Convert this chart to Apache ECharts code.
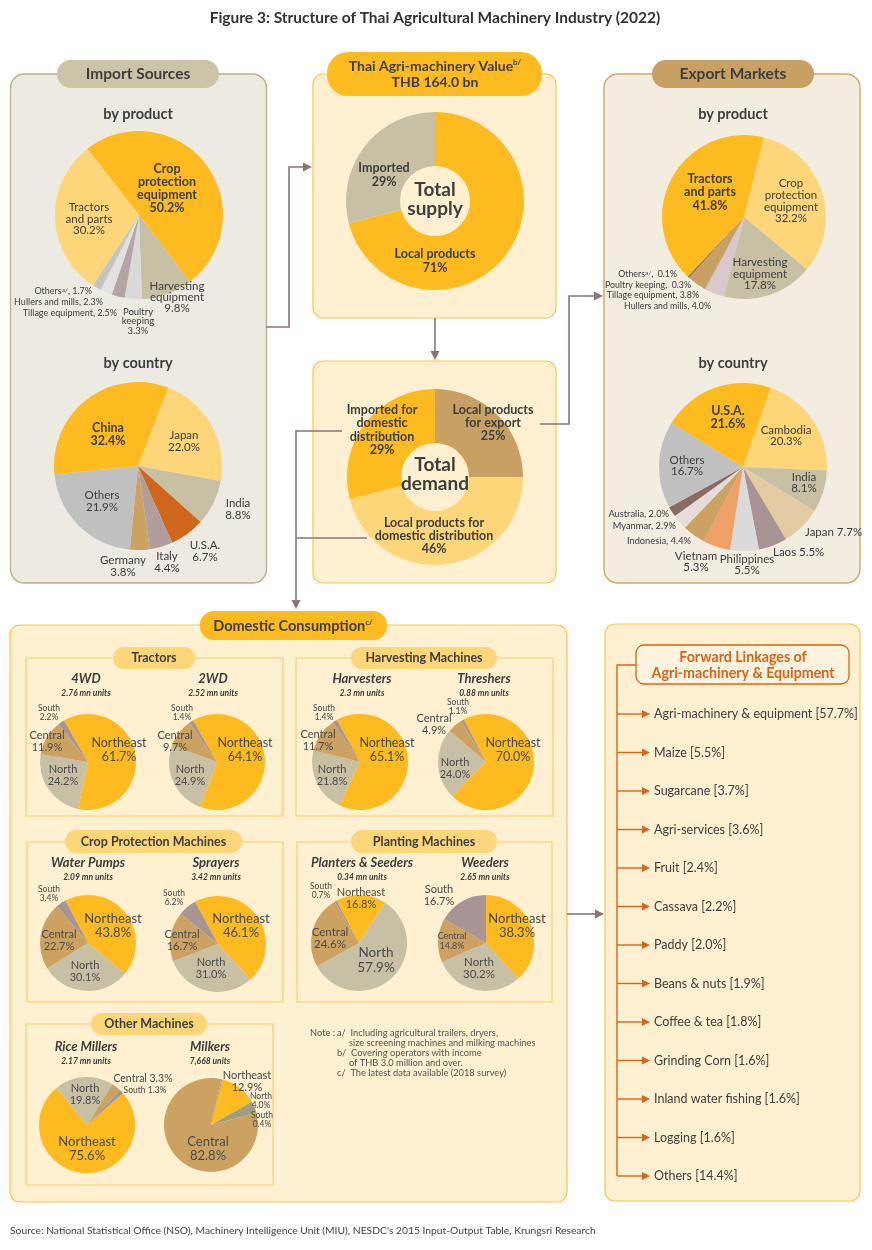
<!DOCTYPE html>
<html><head><meta charset="utf-8">
<script src="https://cdn.jsdelivr.net/npm/echarts@6/dist/echarts.min.js"></script>
<style>html,body{margin:0;padding:0;background:#fff}#c{width:872px;height:1250px}</style>
</head><body><div id="c"></div>
<script>
// ---------------- DATA ----------------
const importProductNames = ['Crop\nprotection\nequipment', 'Harvesting\nequipment', 'Poultry\nkeeping', 'Tillage equipment', 'Hullers and mills', 'Others', 'Tractors\nand parts'];
const importProductValues = [50.2, 9.8, 3.3, 2.5, 2.3, 1.7, 30.2];
const importCountryNames = ['Japan', 'India', 'U.S.A.', 'Italy', 'Germany', 'Others', 'China'];
const importCountryValues = [22.0, 8.8, 6.7, 4.4, 3.8, 21.9, 32.4];
const supplyNames = ['Local products', 'Imported'];
const supplyValues = [71, 29];
const demandNames = ['Local products\nfor export', 'Local products for\ndomestic distribution', 'Imported for\ndomestic\ndistribution'];
const demandValues = [25, 46, 29];
const exportProductNames = ['Crop\nprotection\nequipment', 'Harvesting\nequipment', 'Hullers and mills', 'Tillage equipment', 'Poultry keeping', 'Others', 'Tractors\nand parts'];
const exportProductValues = [32.2, 17.8, 4.0, 3.8, 0.3, 0.1, 41.8];
const exportCountryNames = ['Cambodia', 'India', 'Japan', 'Laos', 'Philippines', 'Vietnam', 'Indonesia', 'Myanmar', 'Australia', 'Others', 'U.S.A.'];
const exportCountryValues = [20.3, 8.1, 7.7, 5.5, 5.5, 5.3, 4.4, 2.9, 2.0, 16.7, 21.6];

const regions = ['Northeast', 'North', 'Central', 'South'];
const machineTitles = ['4WD', '2WD', 'Harvesters', 'Threshers', 'Water Pumps', 'Sprayers', 'Planters & Seeders', 'Weeders', 'Rice Millers', 'Milkers'];
const machineUnits = ['2.76 mn units', '2.52 mn units', '2.3 mn units', '0.88 mn units', '2.09 mn units', '3.42 mn units', '0.34 mn units', '2.65 mn units', '2.17 mn units', '7,668 units'];
const tractors4WD = [61.7, 24.2, 11.9, 2.2];
const tractors2WD = [64.1, 24.9, 9.7, 1.4];
const harvesters = [65.1, 21.8, 11.7, 1.4];
const threshers = [70.0, 24.0, 4.9, 1.1];
const waterPumps = [43.8, 30.1, 22.7, 3.4];
const sprayers = [46.1, 31.0, 16.7, 6.2];
const plantersSeeders = [16.8, 57.9, 24.6, 0.7];
const weeders = [38.3, 30.2, 14.8, 16.7];
const riceMillers = [75.6, 19.8, 3.3, 1.3];
const milkers = [12.9, 4.0, 82.8, 0.4];
const groupTitles = ['Tractors', 'Harvesting Machines', 'Crop Protection Machines', 'Planting Machines', 'Other Machines'];

const linkageNames = ['Agri-machinery & equipment', 'Maize', 'Sugarcane', 'Agri-services', 'Fruit', 'Cassava', 'Paddy', 'Beans & nuts', 'Coffee & tea', 'Grinding Corn', 'Inland water fishing', 'Logging', 'Others'];
const linkageValues = [57.7, 5.5, 3.7, 3.6, 2.4, 2.2, 2.0, 1.9, 1.8, 1.6, 1.6, 1.6, 14.4];

const notes = ['a/  Including agricultural trailers, dryers,', '     size screening machines and milking machines', 'b/  Covering operators with income', '     of THB 3.0 million and over.', 'c/  The latest data available (2018 survey)'];

// ---------------- STYLE ----------------
const FONT = 'Lato, "Open Sans", sans-serif';
const TXT = '#3d3d3d';
const Y = '#FDBB1F', LY = '#FED67A', TG = '#C8C0A4', OC = '#CCA263', MV = '#A89494';
const CREAM = '#FEF0D0', CSTROKE = '#F9C64C';
const ARW = '#8C7474';
const regionColors = [Y, TG, OC, MV];

const chart = echarts.init(document.getElementById('c'), null, {renderer: 'canvas'});
const series = [];
const G = [];

function T(x, y, text, o) {
  o = o || {};
  const size = o.size || 11;
  const st = {
    text: text, fill: o.color || TXT,
    fontSize: size, fontWeight: o.bold ? 'bold' : 'normal', fontStyle: o.italic ? 'italic' : 'normal', fontFamily: FONT,
    font: (o.italic ? 'italic ' : '') + (o.bold ? 'bold ' : '') + size + 'px ' + FONT,
    textAlign: o.align || 'center', align: o.align || 'center',
    textVerticalAlign: 'middle', verticalAlign: 'middle',
    lineHeight: o.lh || Math.round(size * 1.1)
  };
  if (o.rich) st.rich = o.rich;
  return {type: 'text', x: x, y: y, z: 60, silent: true, style: st};
}
function supRich(size, bold, color) {
  return {
    sup: {fontSize: size, fontFamily: FONT, fontWeight: bold ? 'bold' : 'normal', fill: color || TXT, color: color || TXT, verticalAlign: 'top', align: 'center'}
  };
}
function box(x, y, w, h, r, fill, stroke, lw, z) {
  return {type: 'rect', z: z || 1, silent: true, shape: {x: x, y: y, width: w, height: h, r: r}, style: {fill: fill, stroke: stroke, lineWidth: lw || 1.2}};
}
function arrow(points, color, lw, hl) {
  const n = points.length;
  const x2 = points[n - 1][0], y2 = points[n - 1][1], x1 = points[n - 2][0], y1 = points[n - 2][1];
  const a = Math.atan2(y2 - y1, x2 - x1);
  hl = hl || 9; const hw = hl * 0.5;
  const pts = points.slice(); pts[n - 1] = [x2 - Math.cos(a) * hl * 0.7, y2 - Math.sin(a) * hl * 0.7];
  const bx = x2 - Math.cos(a) * hl, by = y2 - Math.sin(a) * hl;
  const px = -Math.sin(a) * hw, py = Math.cos(a) * hw;
  return [
    {type: 'polyline', z: 40, silent: true, shape: {points: pts}, style: {stroke: color, lineWidth: lw || 1.6, fill: null}},
    {type: 'polygon', z: 41, silent: true, shape: {points: [[x2, y2], [bx + px, by + py], [bx - px, by - py]]}, style: {fill: color}}
  ];
}
function line(points, color, lw) {
  return {type: 'polyline', z: 40, silent: true, shape: {points: points}, style: {stroke: color, lineWidth: lw || 1.6, fill: null}};
}
function pie(names, values, lay) {
  series.push({
    type: 'pie', center: lay.c, radius: lay.r, startAngle: lay.start, clockwise: true,
    silent: true, animation: false, avoidLabelOverlap: false, z: 5,
    label: {show: false}, labelLine: {show: false}, emphasis: {disabled: true},
    itemStyle: {borderWidth: 0},
    data: names.map((n, i) => ({name: n.replace(/\n/g, ' '), value: values[i], itemStyle: {color: lay.colors[i]}}))
  });
}
function pct(v, d) { return v.toFixed(d === undefined ? 1 : d) + '%'; }
// label specs: [index, x, y, size, bold, mode, align, lh, sup]
function labels(names, values, specs, dec) {
  specs.forEach(s => {
    const [i, x, y, size, bold, mode, align, lh, sup] = s;
    let nm = names[i];
    let t;
    if (sup) nm = nm + '{sup|' + sup + '}';
    if (mode === 'comma') t = nm + ', ' + pct(values[i], dec);
    else if (mode === 'comma2') t = nm + ',  ' + pct(values[i], dec);
    else if (mode === 'space') t = nm + ' ' + pct(values[i], dec);
    else t = nm + '\n' + pct(values[i], dec);
    G.push(T(x, y, t, {size: size, bold: bold, align: align || 'center', lh: lh, rich: sup ? supRich(6.5, bold) : null}));
  });
}

// ---------------- TITLE / SOURCE ----------------
G.push(T(435, 18, 'Figure 3: Structure of Thai Agricultural Machinery Industry (2022)', {size: 15.5, bold: true, color: '#333'}));
G.push(T(10, 1231, "Source: National Statistical Office (NSO), Machinery Intelligence Unit (MIU), NESDC's 2015 Input-Output Table, Krungsri Research", {size: 10.3, align: 'left', color: '#444'}));

// ---------------- IMPORT SOURCES ----------------
G.push(box(10.5, 74, 256, 509, 14, '#EDEAE2', '#BDB08A', 1.4));
G.push(box(57, 60, 162, 28, 14, '#CCC4A8', null, 0, 3));
G.push(T(138, 74, 'Import Sources', {size: 15.5, bold: true}));
G.push(T(138, 114, 'by product', {size: 14.5, bold: true}));
pie(importProductNames, importProductValues, {c: [139, 215], r: 84, start: 128, colors: [Y, TG, '#D9D9D9', '#B6A4A4', '#E2E2E2', '#C4C4C4', LY]});
labels(importProductNames, importProductValues, [
  [0, 167, 188, 12.5, true, 'nl', 'center', 13],
  [6, 89, 219, 11.5, false, 'nl', 'center', 11.5],
  [1, 177, 297, 11.5, false, 'nl', 'center', 11],
  [2, 138, 321, 9.5, false, 'nl', 'center', 9.5],
  [5, 92, 291, 9, false, 'comma', 'right', 10, 'a/'],
  [4, 103, 302, 9, false, 'comma', 'right'],
  [3, 117, 313, 9, false, 'comma', 'right']
]);
G.push(T(138, 363, 'by country', {size: 14.5, bold: true}));
pie(importCountryNames, importCountryValues, {c: [138, 466], r: 84, start: 69, colors: [LY, TG, '#D0661B', '#B09D9D', OC, '#C0C0C0', Y]});
labels(importCountryNames, importCountryValues, [
  [6, 108, 434, 12.5, true, 'nl', 'center', 13],
  [0, 184, 441, 11.5, false, 'nl', 'center', 12],
  [1, 238, 509, 11.5, false, 'nl', 'center', 12],
  [2, 205, 551, 11.5, false, 'nl', 'center', 12],
  [3, 167, 562, 11.5, false, 'nl', 'center', 12],
  [4, 123, 566, 11.5, false, 'nl', 'center', 12],
  [5, 102, 501, 11.5, false, 'nl', 'center', 12]
]);

// ---------------- SUPPLY ----------------
G.push(box(313, 74, 243, 244, 10, CREAM, CSTROKE, 1.2));
G.push(box(327, 52, 215, 44, 21, Y, null, 0, 3));
G.push(T(435, 74, 'Thai Agri-machinery Value{sup|b/}\nTHB 164.0 bn', {size: 14, bold: true, lh: 16, rich: supRich(8, true)}));
pie(supplyNames, supplyValues, {c: [435, 201], r: [35, 89], start: 90, colors: [Y, TG]});
labels(supplyNames, supplyValues, [
  [1, 384, 175, 12.5, true, 'nl', 'center', 14],
  [0, 435, 261, 12.5, true, 'nl', 'center', 14]
], 0);
G.push(T(435, 199, 'Total\nsupply', {size: 19, bold: true, lh: 19}));

// ---------------- DEMAND ----------------
G.push(box(313, 361, 243, 222, 10, CREAM, CSTROKE, 1.2));
pie(demandNames, demandValues, {c: [435, 477], r: [34, 88], start: 90, colors: ['#C9A063', LY, Y]});
labels(demandNames, demandValues, [
  [2, 382, 430, 12.5, true, 'nl', 'center', 13.3],
  [0, 493, 423, 12.5, true, 'nl', 'center', 13.3],
  [1, 434, 536, 12.5, true, 'nl', 'center', 13.3]
], 0);
G.push(T(435, 474, 'Total\ndemand', {size: 19, bold: true, lh: 19}));

// ---------------- EXPORT MARKETS ----------------
G.push(box(604, 74, 256, 509, 14, '#F3ECE1', '#CDA86B', 1.4));
G.push(box(652, 60, 162, 28, 14, '#C9A063', null, 0, 3));
G.push(T(733, 74, 'Export Markets', {size: 15.5, bold: true}));
G.push(T(733, 114, 'by product', {size: 14.5, bold: true}));
pie(exportProductNames, exportProductValues, {c: [744, 217], r: 82, start: 76, colors: [LY, TG, '#D8CACA', '#C9A063', '#8C7070', '#5A5A5A', Y]});
labels(exportProductNames, exportProductValues, [
  [6, 710, 192, 12.5, true, 'nl', 'center', 13.5],
  [0, 791, 201, 11.5, false, 'nl', 'center', 11.7],
  [1, 760, 274, 11.5, false, 'nl', 'center', 11.5],
  [5, 677, 274, 8.8, false, 'comma2', 'right', 10, 'a/'],
  [4, 691, 285, 8.8, false, 'comma2', 'right'],
  [3, 699, 295, 8.8, false, 'comma', 'right'],
  [2, 711, 306, 8.8, false, 'comma', 'right']
]);
G.push(T(733, 363, 'by country', {size: 14.5, bold: true}));
pie(exportCountryNames, exportCountryValues, {c: [743, 467], r: 84, start: 70.7, colors: [LY, TG, '#E3CBA3', '#A89494', '#DADADA', '#EFA067', OC, '#E5DBD9', '#8A6A64', '#C0C0C0', Y]});
labels(exportCountryNames, exportCountryValues, [
  [10, 728, 417, 12.5, true, 'nl', 'center', 13],
  [0, 786, 436, 11.5, false, 'nl', 'center', 11.5],
  [1, 804, 483, 11.5, false, 'nl', 'center', 11.5],
  [2, 805, 532, 11.5, false, 'space', 'left'],
  [3, 773, 552, 11.5, false, 'space', 'left'],
  [4, 747, 565, 11.5, false, 'nl', 'center', 11.5],
  [5, 696, 562, 11.5, false, 'nl', 'center', 11],
  [6, 691, 541, 9.3, false, 'comma', 'right'],
  [7, 676, 526, 9.3, false, 'comma', 'right'],
  [8, 669, 514, 9.3, false, 'comma', 'right'],
  [9, 687, 466, 11.5, false, 'nl', 'center', 11.5]
]);

// ---------------- CONNECTORS ----------------
G.push(...arrow([[266, 327], [289, 327], [289, 167], [312, 167]], ARW, 1.6));
G.push(...arrow([[435, 318], [435, 360]], ARW, 1.6));
G.push(...arrow([[540, 424], [569, 424], [569, 296], [603, 296]], ARW, 1.6));
G.push(...arrow([[342, 431], [296, 431], [296, 609]], ARW, 1.6));
G.push(line([[367, 538], [296, 538]], ARW, 1.6));
G.push(...arrow([[567, 914], [604, 914]], ARW, 1.6));

// ---------------- DOMESTIC CONSUMPTION ----------------
G.push(box(10, 625, 557, 577, 10, CREAM, CSTROKE, 1.2));
G.push(box(200, 611, 187, 29, 14, Y, null, 0, 3));
G.push(T(293, 626, 'Domestic Consumption{sup|c/}', {size: 14.5, bold: true, lh: 16, rich: supRich(8, true)}));
const SUB = '#F7CF6B';
const groupBoxes = [[26, 658, 257, 158], [296, 658, 257, 158], [27, 842, 256, 160], [297, 842, 255, 160], [26, 1024, 247, 161]];
const groupPills = [[113, 647, 82, 22], [351, 647, 146, 22], [65, 830, 177, 23], [351, 830, 146, 23], [91, 1013, 116, 22]];
groupBoxes.forEach((b, i) => {
  G.push(box(b[0], b[1], b[2], b[3], 0, 'rgba(0,0,0,0)', SUB, 1.2, 2));
  const p = groupPills[i];
  G.push(box(p[0], p[1], p[2], p[3], p[3] / 2, LY, null, 0, 3));
  G.push(T(p[0] + p[2] / 2, p[1] + p[3] / 2, groupTitles[i], {size: 12.5, bold: true}));
});
const machineData = [tractors4WD, tractors2WD, harvesters, threshers, waterPumps, sprayers, plantersSeeders, weeders, riceMillers, milkers];
const titlePos = [[86, 679], [213, 679], [362, 679], [484, 679], [88, 863], [216, 863], [362, 863], [485, 863], [86, 1047], [210, 1047]];
const mini = [
  {c: [88, 762], r: 48, start: 120, L: [[0, 119, 750, 12.5], [1, 63, 775, 11], [2, 47, 741, 11], [3, 49, 713, 8.5]]},
  {c: [217, 762], r: 48, start: 120, L: [[0, 245, 750, 12.5], [1, 190, 775, 11], [2, 175, 741, 11], [3, 182, 713, 8.5]]},
  {c: [360, 762], r: 48, start: 119, L: [[0, 387, 750, 12.5], [1, 332, 775, 11], [2, 318, 740, 11], [3, 324, 713, 8.5]]},
  {c: [486, 762], r: 48, start: 117.6, L: [[0, 513, 750, 12.5], [1, 455, 768, 11], [2, 434, 724, 11], [3, 458, 707, 8.5]]},
  {c: [88, 943], r: 48, start: 118, L: [[0, 113, 926, 13], [1, 85, 971, 11], [2, 59, 940, 11], [3, 49, 894, 8.5]]},
  {c: [218, 944], r: 48, start: 118.5, L: [[0, 241, 926, 13], [1, 211, 968, 11], [2, 182, 940, 11], [3, 174, 898, 8.5]]},
  {c: [359, 943], r: 48, start: 118, L: [[0, 361, 898, 11], [1, 376, 960, 13.5], [2, 330, 938, 11.5], [3, 321, 891, 8.5]]},
  {c: [486, 943], r: 48, start: 90, L: [[0, 517, 926, 13], [1, 479, 968, 11.5], [2, 452, 941, 9], [3, 439, 895, 11]]},
  {c: [87, 1125], r: 48, start: 41.5, L: [[0, 87, 1149, 13], [1, 85, 1094, 11], [2, 143, 1079, 10.5, 'space'], [3, 145, 1090, 8.5, 'space']]},
  {c: [211, 1125], r: 47, start: 76, colors: [Y, '#A09E80', OC, MV], L: [[0, 247, 1081, 11], [1, 261, 1101, 8.5], [2, 208, 1149, 13], [3, 262, 1120, 8.5]]}
];
mini.forEach((m, k) => {
  pie(regions, machineData[k], {c: m.c, r: m.r, start: m.start, colors: m.colors || regionColors});
  G.push(T(titlePos[k][0], titlePos[k][1], machineTitles[k], {size: 13, bold: true, italic: true}));
  G.push(T(titlePos[k][0], titlePos[k][1] + 14, machineUnits[k], {size: 8.5, bold: true, italic: true}));
  m.L.forEach(l => {
    const [i, x, y, size, mode] = l;
    const t = mode === 'space' ? regions[i] + ' ' + pct(machineData[k][i]) : regions[i] + '\n' + pct(machineData[k][i]);
    G.push(T(x, y, t, {size: size, color: '#4a4a4a', lh: Math.round(size * 1.08)}));
  });
});
// notes
G.push(T(310, 1033, 'Note :', {size: 9.3, align: 'left', color: '#555'}));
notes.forEach((n, i) => G.push(T(337, 1033 + i * 10, n, {size: 9.3, align: 'left', color: '#555'})));

// ---------------- FORWARD LINKAGES ----------------
const OR = '#D6651D';
G.push(box(605, 624, 255, 577, 10, CREAM, CSTROKE, 1.2));
G.push(box(636, 645, 213, 39, 8, '#FEF3DC', OR, 1.3, 3));
G.push(T(743, 665, 'Forward Linkages of\nAgri-machinery & Equipment', {size: 14.2, bold: true, color: OR, lh: 16}));
const rowY0 = 714, rowStep = 38.5;
G.push(line([[636, 665], [617, 665], [617, rowY0 + rowStep * (linkageNames.length - 1)]], OR, 1.4));
linkageNames.forEach((n, i) => {
  const y = rowY0 + rowStep * i;
  G.push(...arrow([[617, y], [650, y]], OR, 1.4, 8));
  G.push(T(654, y, n + ' [' + pct(linkageValues[i]) + ']', {size: 12.5, align: 'left', color: '#404040'}));
});

chart.setOption({
  animation: false,
  backgroundColor: '#ffffff',
  series: series,
  graphic: {elements: G}
});
</script>
</body></html>
